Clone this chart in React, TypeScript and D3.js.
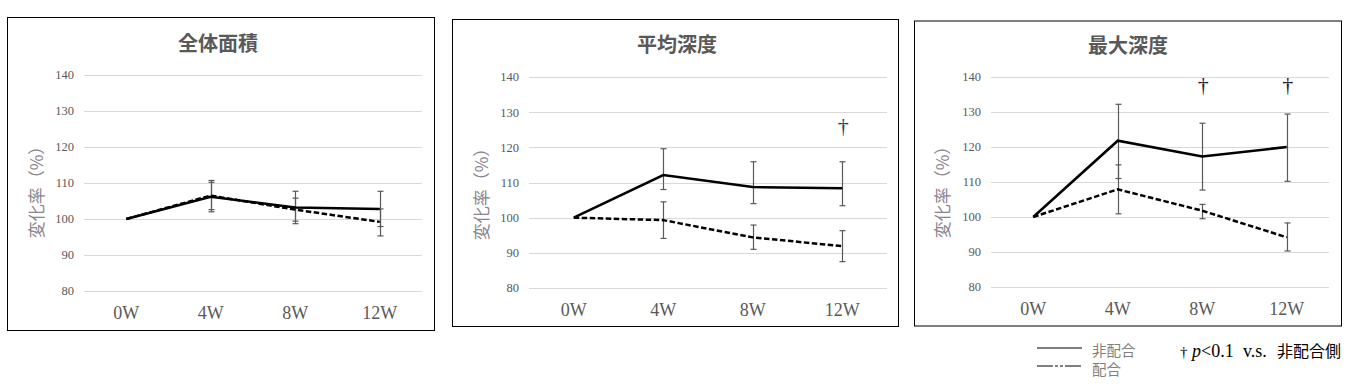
import React from "react";
import * as d3 from "d3";

const categories = ["0W", "4W", "8W", "12W"];
const yTicks = [80, 90, 100, 110, 120, 130, 140];

// 全体面積
const areaNon = [100, 106.2, 103.2, 102.8];
const areaNonHi = [null, 110.7, 107.7, 107.7];
const areaNonLo = [null, 102.0, 98.7, 97.9];
const areaCom = [100, 106.5, 102.6, 99.2];
const areaComHi = [null, 110.2, 105.8, 102.8];
const areaComLo = [null, 102.6, 99.4, 95.3];
const areaDagger = [null, null, null, null];

// 平均深度
const meanNon = [100, 112.1, 108.7, 108.4];
const meanNonHi = [null, 119.6, 115.9, 115.9];
const meanNonLo = [null, 108.0, 104.0, 103.4];
const meanCom = [100, 99.3, 94.4, 91.9];
const meanComHi = [null, 104.5, 97.9, 96.3];
const meanComLo = [null, 94.1, 91.0, 87.5];
const meanDagger = [null, null, null, 124];

// 最大深度
const maxNon = [100, 121.8, 117.3, 120.0];
const maxNonHi = [null, 132.2, 126.8, 129.4];
const maxNonLo = [null, 111.0, 107.7, 110.2];
const maxCom = [100, 107.9, 101.8, 94.2];
const maxComHi = [null, 114.9, 103.6, 98.3];
const maxComLo = [null, 100.9, 99.5, 90.3];
const maxDagger = [null, null, 135.7, 135.7];

const titles = ["全体面積", "平均深度", "最大深度"];
const yLabel = "変化率（%）";
const legendLabels = ["非配合", "配合"];
const noteParts = ["†", "p", "<0.1", "v.s.", "非配合側"];

type Layout = {
  box: [number, number, number, number];
  left: number;
  right: number;
  yTop: number;
  yBottom: number;
  tickX: number;
  titleX: number;
  titleY: number;
  yLabX: number;
  yLabY: number;
  xLabY: number;
  daggerColor: string;
};

const layouts: Layout[] = [
  { box: [7.5, 17.5, 427, 313], left: 84, right: 422, yTop: 75, yBottom: 291, tickX: 74, titleX: 218, titleY: 51, yLabX: 37, yLabY: 188, xLabY: 319, daggerColor: "#1f3864" },
  { box: [452.5, 19.5, 446, 307], left: 529, right: 887, yTop: 77, yBottom: 288, tickX: 519, titleX: 677, titleY: 52, yLabX: 482, yLabY: 190, xLabY: 316, daggerColor: "#1f3f66" },
  { box: [914.5, 21, 427, 305], left: 991, right: 1329, yTop: 77, yBottom: 287, tickX: 981, titleX: 1128, titleY: 53, yLabX: 943, yLabY: 188, xLabY: 315, daggerColor: "#2a2038" },
];

const panelData = [
  { non: areaNon, nonHi: areaNonHi, nonLo: areaNonLo, com: areaCom, comHi: areaComHi, comLo: areaComLo, dagger: areaDagger },
  { non: meanNon, nonHi: meanNonHi, nonLo: meanNonLo, com: meanCom, comHi: meanComHi, comLo: meanComLo, dagger: meanDagger },
  { non: maxNon, nonHi: maxNonHi, nonLo: maxNonLo, com: maxCom, comHi: maxComHi, comLo: maxComLo, dagger: maxDagger },
];

const SERIF = "'Liberation Serif', 'Times New Roman', serif";
const CJK = "'Noto Sans CJK JP', 'Noto Sans', sans-serif";

function Panel({ idx }: { idx: number }) {
  const L = layouts[idx];
  const D = panelData[idx];
  const x = d3.scaleBand<string>().domain(categories).range([L.left, L.right]);
  const cx = (c: string) => (x(c) as number) + x.bandwidth() / 2;
  const y = d3.scaleLinear().domain([80, 140]).range([L.yBottom, L.yTop]);
  const line = d3
    .line<number>()
    .x((_, i) => cx(categories[i]))
    .y((v) => y(v));
  const cap = 3;
  const errBars = (hi: (number | null)[], lo: (number | null)[], key: string) =>
    categories.map((c, i) => {
      const h = hi[i];
      const l = lo[i];
      if (h == null || l == null) return null;
      const xx = Math.round(cx(c)) + 0.5;
      return (
        <g key={key + i} stroke="#595959" strokeWidth={1.2}>
          <line x1={xx} x2={xx} y1={y(h)} y2={y(l)} />
          <line x1={xx - cap} x2={xx + cap} y1={y(h)} y2={y(h)} />
          <line x1={xx - cap} x2={xx + cap} y1={y(l)} y2={y(l)} />
        </g>
      );
    });
  return (
    <g>
      <rect x={L.box[0]} y={L.box[1]} width={L.box[2]} height={L.box[3]} fill="#fff" stroke="#000" strokeWidth={1} />
      <text x={L.titleX} y={L.titleY} textAnchor="middle" fontFamily={CJK} fontWeight="bold" fontSize={20} fill="#595959">
        {titles[idx]}
      </text>
      {yTicks.map((t) => (
        <g key={t}>
          <line x1={L.left} x2={L.right} y1={Math.round(y(t)) + 0.5} y2={Math.round(y(t)) + 0.5} stroke="#d9d9d9" strokeWidth={1} />
          <text x={L.tickX} y={y(t)} dy="0.35em" textAnchor="end" fontFamily={SERIF} fontSize={12.5} fill="#595959">
            {t}
          </text>
        </g>
      ))}
      {categories.map((c) => (
        <text key={c} x={cx(c)} y={L.xLabY} textAnchor="middle" fontFamily={SERIF} fontSize={18} fill="#595959">
          {c}
        </text>
      ))}
      <text
        transform={`translate(${L.yLabX},${L.yLabY}) rotate(-90)`}
        textAnchor="middle"
        dy="0.35em"
        fontFamily={CJK}
        fontSize={17}
        fill="#8a8490"
      >
        {yLabel}
      </text>
      {errBars(D.nonHi, D.nonLo, "n")}
      {errBars(D.comHi, D.comLo, "c")}
      <path d={line(D.com) || ""} fill="none" stroke="#000" strokeWidth={2.5} strokeDasharray="5.5,2.5" />
      <path d={line(D.non) || ""} fill="none" stroke="#000" strokeWidth={2.5} />
      {categories.map((c, i) =>
        D.dagger[i] == null ? null : (
          <text key={"d" + i} x={cx(c) + 1} y={y(D.dagger[i] as number)} textAnchor="middle" fontFamily={SERIF} fontSize={22} fill={L.daggerColor}>
            †
          </text>
        )
      )}
    </g>
  );
}

export default function App() {
  return (
    <svg width={1356} height={386} style={{ position: "absolute", left: 0, top: 0, background: "#fff" }}>
      <rect x={0} y={0} width={1356} height={386} fill="#fff" />
      {[0, 1, 2].map((i) => (
        <Panel key={i} idx={i} />
      ))}
      <g>
        <line x1={1037} x2={1082} y1={348} y2={348} stroke="#000" strokeWidth={1.2} />
        <line x1={1037} x2={1082} y1={366} y2={366} stroke="#000" strokeWidth={1.2} strokeDasharray="16,2,3,2,3,2" />
        <text x={1092} y={356} fontFamily={CJK} fontSize={14.5} fill="#7f7f7f">
          {legendLabels[0]}
        </text>
        <text x={1092} y={375} fontFamily={CJK} fontSize={14.5} fill="#7f7f7f">
          {legendLabels[1]}
        </text>
        <text y={357} fontFamily={SERIF} fontSize={18} fill="#000">
          <tspan x={1180} fontSize={15}>{noteParts[0]}</tspan>
          <tspan x={1192} fontStyle="italic">{noteParts[1]}</tspan>
          <tspan x={1201}>{noteParts[2]}</tspan>
          <tspan x={1243}>{noteParts[3]}</tspan>
          <tspan x={1277} fontFamily={CJK} fontSize={16}>
            {noteParts[4]}
          </tspan>
        </text>
      </g>
    </svg>
  );
}
